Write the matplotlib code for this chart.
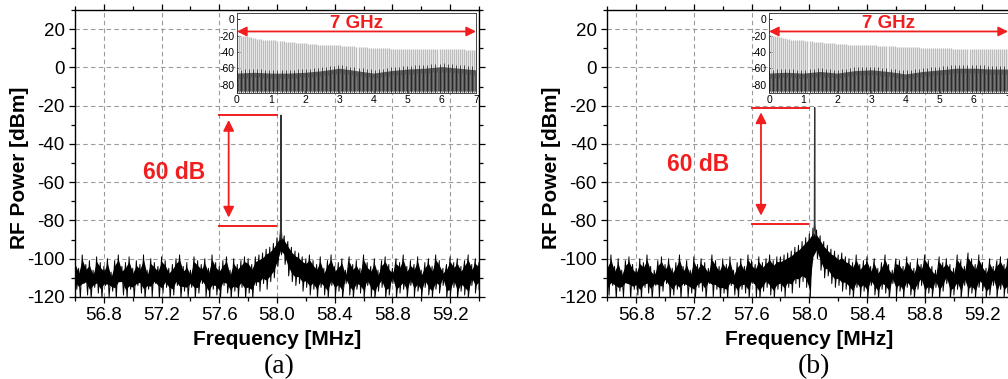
import numpy as np
import matplotlib
matplotlib.use("Agg")
import matplotlib.pyplot as plt
from matplotlib.ticker import MultipleLocator, FormatStrFormatter

plt.rcParams['font.family'] = ['Liberation Sans', 'DejaVu Sans']
plt.rcParams['axes.unicode_minus'] = False

# ---------------- data ----------------
freq_range_mhz = (56.6, 59.4)

# panel (a): noise trace extremes (upper / lower excursions), equally spaced over the span
noise_upper_a = [
    -100, -105, -98, -103, -101, -106, -99, -102, -104, -100, -107, -101, -98, -104, -102, -99,
    -105, -101, -103, -98, -106, -100, -102, -104, -99, -101, -105, -103, -100, -98, -104, -102,
    -106, -99, -101, -103, -100, -105, -98, -102, -104, -101, -99, -106, -100, -103, -101, -99,
    -100, -103, -99, -98, -97, -95, -94, -92, -89,
    -86,
    -88, -91, -94, -96, -97, -99, -100, -98, -101,
    -103, -99, -105, -101, -98, -104, -102, -100, -106, -99, -103, -101, -105, -98, -102, -104,
    -100, -106, -101, -99, -103, -105, -100, -102, -98, -104, -101, -103, -99, -106, -102, -100,
    -104, -98, -101, -105, -103, -99, -102, -100, -104, -101, -98, -103, -100, -102]
noise_lower_a = [
    -116, -121, -113, -119, -121, -115, -118, -121, -114, -120, -117, -121, -112, -119, -121, -116,
    -121, -114, -118, -121, -116, -120, -113, -121, -118, -115, -121, -119, -114, -121, -117, -120,
    -115, -121, -118, -113, -120, -121, -116, -119, -121, -114, -118, -121, -117, -120, -115, -121,
    -118, -121, -114, -117, -113, -116, -112, -110, -104,
    -98,
    -103, -109, -112, -114, -113, -117, -115, -119, -116,
    -121, -115, -119, -121, -114, -120, -117, -121, -113, -119, -121, -116, -118, -121, -114, -120,
    -121, -117, -115, -121, -119, -113, -121, -118, -116, -121, -114, -120, -117, -121, -115, -119,
    -121, -116, -118, -114, -121, -120, -115, -121, -117, -119, -121, -114, -118, -116]

# panel (b)
noise_upper_b = [
    -102, -98, -104, -100, -106, -101, -99, -103, -105, -100, -102, -98, -104, -106, -101, -99,
    -103, -100, -105, -102, -98, -104, -101, -106, -99, -103, -100, -102, -105, -98, -101, -104,
    -100, -103, -99, -106, -102, -100, -104, -98, -101, -103, -99, -102, -100, -98, -101, -99,
    -99, -98, -97, -96, -94, -93, -91, -89, -87,
    -84,
    -85, -88, -91, -93, -95, -96, -98, -97, -99,
    -100, -102, -98, -103, -101, -99, -104, -100, -105, -102, -98, -103, -106, -100, -101, -104,
    -99, -102, -105, -100, -103, -98, -101, -104, -106, -99, -102, -100, -103, -105, -98, -101,
    -104, -97, -100, -103, -98, -102, -105, -100, -104, -101, -99, -103, -100, -102]
noise_lower_b = [
    -119, -114, -121, -117, -120, -113, -121, -116, -119, -121, -115, -118, -121, -114, -120, -117,
    -113, -121, -119, -116, -121, -114, -120, -118, -121, -115, -117, -121, -113, -120, -116, -121,
    -118, -121, -114, -119, -121, -116, -118, -121, -113, -120, -121, -117, -115, -119, -121, -116,
    -117, -120, -115, -118, -113, -115, -112, -115, -121,
    -97,
    -100, -106, -110, -109, -113, -115, -114, -117, -116,
    -119, -121, -115, -120, -117, -121, -114, -119, -121, -116, -118, -121, -113, -120, -117, -121,
    -115, -119, -121, -116, -114, -121, -118, -120, -115, -121, -117, -113, -121, -119, -116, -121,
    -114, -120, -118, -121, -115, -117, -121, -119, -114, -121, -116, -120, -118, -117]

# carrier peaks
peak_freq = {'a': 58.027, 'b': 58.037}
peak_level = {'a': -25, 'b': -21}
peak_base = {'a': -90, 'b': -88}

# 60 dB markers (upper level, lower level)
marker_levels = {'a': (-25, -83), 'b': (-21, -82)}

# inset: comb line peak powers (0..7 GHz)
comb_peak_a = [
    -19, -19, -20, -20, -21, -21, -22, -22, -23, -23, -24, -24, -24, -25, -25, -25, -25,
    -26, -26, -26, -27, -27, -27, -27, -28, -28, -28, -28, -28, -29, -29, -29, -29,
    -29, -29, -30, -30, -30, -30, -30, -31, -31, -31, -31, -31, -31, -32, -32, -32, -32,
    -32, -32, -33, -33, -33, -33, -33, -33, -33, -34, -34, -34, -34, -34, -34, -35, -35, -35,
    -35, -35, -35, -35, -35, -35, -35, -35, -36, -36, -36, -36, -36, -36, -36, -36, -36,
    -36, -36, -36, -36, -36, -36, -37, -37, -37, -37, -37, -37, -37, -37, -37, -37, -37,
    -37, -37, -37, -37, -37, -37, -37, -37, -37, -37, -37, -38, -38, -38, -38, -38, -38]
comb_peak_b = [
    -18, -19, -20, -21, -21, -22, -22, -23, -23, -24, -24, -25, -25, -25, -26, -26, -26,
    -26, -27, -27, -27, -27, -28, -28, -28, -28, -28, -29, -29, -29, -29, -29, -29,
    -30, -30, -30, -30, -30, -30, -31, -31, -31, -31, -31, -31, -31, -32, -32, -32, -32,
    -32, -32, -32, -32, -33, -33, -33, -33, -33, -33, -33, -33, -33, -34, -34, -34, -34, -34,
    -34, -34, -34, -34, -34, -34, -34, -35, -35, -35, -35, -35, -35, -35, -35, -35, -35,
    -35, -35, -35, -35, -35, -35, -36, -36, -36, -36, -36, -36, -36, -36, -36, -36, -36,
    -36, -36, -36, -36, -36, -36, -36, -37, -37, -37, -37, -37, -37, -37, -37, -37, -37]
# inset noise-floor top (every 0.5 GHz, 0..7 GHz)
inset_floor_a = [-66, -65, -66, -66, -65, -63, -60, -63, -66, -63, -61, -60, -58, -60, -62]
inset_floor_b = [-66, -65, -66, -64, -66, -63, -62, -64, -67, -64, -62, -60, -60, -61, -61]
inset_bottom = -90

x_ticks = [56.8, 57.2, 57.6, 58.0, 58.4, 58.8, 59.2]
y_ticks = [20, 0, -20, -40, -60, -80, -100, -120]
inset_x_ticks = [0, 1, 2, 3, 4, 5, 6, 7]
inset_y_ticks = [0, -20, -40, -60, -80]

RED = '#f01e1e'

fig = plt.figure(figsize=(10.08, 3.79), dpi=100)


def draw_panel(key, left, inset_left, up, lo, comb, floor, label):
    ax = fig.add_axes([left, 0.2164, 0.4008, 0.7573])
    ax.set_xlim(*freq_range_mhz)
    ax.set_ylim(-120, 30)
    span = freq_range_mhz[1] - freq_range_mhz[0]
    up = np.asarray(up, float)
    lo = np.asarray(lo, float)
    xu = np.linspace(freq_range_mhz[0], freq_range_mhz[1], len(up))
    xl = np.linspace(freq_range_mhz[0] + span / (2 * len(lo)), freq_range_mhz[1], len(lo))
    # dense core of the noise band
    ax.fill_between(xu, up - 2.5, np.interp(xu, xl, lo) + 4.0, color='black', lw=0, zorder=2)
    # spiky trace: interleave upper/lower excursions
    xs = np.concatenate([xu, xl])
    ys = np.concatenate([up, lo])
    order = np.argsort(xs, kind='stable')
    ax.plot(xs[order], ys[order], color='black', lw=0.7, zorder=3)
    f = peak_freq[key]
    ax.plot([f - 0.007, f - 0.002, f, f + 0.002, f + 0.007],
            [peak_base[key], peak_base[key] + 6, peak_level[key], peak_base[key] + 6, peak_base[key]],
            color='#333333', lw=0.9, zorder=4)

    ax.xaxis.set_major_locator(plt.FixedLocator(x_ticks))
    ax.xaxis.set_minor_locator(MultipleLocator(0.2))
    ax.xaxis.set_major_formatter(FormatStrFormatter('%.1f'))
    ax.yaxis.set_major_locator(plt.FixedLocator(y_ticks))
    ax.yaxis.set_minor_locator(MultipleLocator(10))
    ax.tick_params(which='both', direction='out', top=True, right=True, labelsize=13.5, width=0.9)
    ax.tick_params(which='major', length=4)
    ax.tick_params(which='minor', length=3)
    ax.grid(True, which='major', color='#9a9a9a', ls=(0, (4, 3)), lw=0.8, zorder=0)
    for s in ax.spines.values():
        s.set_linewidth(1.0)
    ax.set_xlabel('Frequency [MHz]', fontsize=15, fontweight='bold')
    ax.set_ylabel('RF Power [dBm]', fontsize=15, fontweight='bold')
    ax.xaxis.set_label_coords(0.5, -0.115)
    ax.yaxis.set_label_coords(-0.114, 0.45)

    # 60 dB annotation
    hi, lowv = marker_levels[key]
    ax.plot([57.6, 58.0], [hi, hi], color=RED, lw=1.4, zorder=5)
    ax.plot([57.6, 57.99], [lowv, lowv], color=RED, lw=1.4, zorder=5)
    ax.annotate('', xy=(57.665, lowv + 4.5), xytext=(57.665, hi - 2.5),
                arrowprops=dict(arrowstyle='<|-|>', color=RED, lw=1.3, mutation_scale=16,
                                shrinkA=0, shrinkB=0), zorder=5)
    ax.text(57.29 if key == 'a' else 57.23, -55 if key == 'a' else -51, '60 dB', color=RED,
            fontsize=16.5, fontweight='bold', ha='center', va='center', zorder=5)

    # inset
    ins = fig.add_axes([inset_left, 0.7554, 0.2371, 0.2111])
    ins.set_facecolor('white')
    ins.set_xlim(0, 7)
    ins.set_ylim(-90, 8)
    cx = np.linspace(0, 7, len(comb))
    ins.vlines(cx, inset_bottom, comb, color='#bcbcbc', lw=1.0, zorder=2)
    fx = np.linspace(0, 7, len(floor))
    ins.fill_between(fx, inset_bottom + 2, floor, color='#4a4a4a', alpha=0.9, lw=0, zorder=3)
    ins.vlines(cx[::2], inset_bottom, np.interp(cx[::2], fx, floor) + 4, color='#151515', lw=0.5,
               zorder=3)
    ins.vlines(cx[1::2], inset_bottom, np.interp(cx[1::2], fx, floor) - 6, color='#8a8a8a', lw=0.5,
               zorder=3)
    ins.annotate('', xy=(0, -15), xytext=(7, -15),
                 arrowprops=dict(arrowstyle='<|-|>', color=RED, lw=1.3, mutation_scale=14,
                                 shrinkA=0, shrinkB=0), zorder=6)
    ins.text(3.5, -5, '7 GHz', color=RED, fontsize=13.5, fontweight='bold', ha='center',
             va='center', zorder=6)
    ins.xaxis.set_major_locator(plt.FixedLocator(inset_x_ticks))
    ins.yaxis.set_major_locator(plt.FixedLocator(inset_y_ticks))
    ins.tick_params(direction='in', length=2.5, labelsize=7.5, pad=2, width=0.6)
    for s in ins.spines.values():
        s.set_linewidth(0.7)
        s.set_color('#444444')

    fig.text(label[1], 0.034, label[0], fontsize=20, family=['Liberation Serif'],
             ha='center', va='center')


draw_panel('a', 0.0744, 0.2351, noise_upper_a, noise_lower_a, comb_peak_a, inset_floor_a,
           ('(a)', 0.2768))
draw_panel('b', 0.6025, 0.7629, noise_upper_b, noise_lower_b, comb_peak_b, inset_floor_b,
           ('(b)', 0.807))

fig.savefig('out.png', dpi=100)
